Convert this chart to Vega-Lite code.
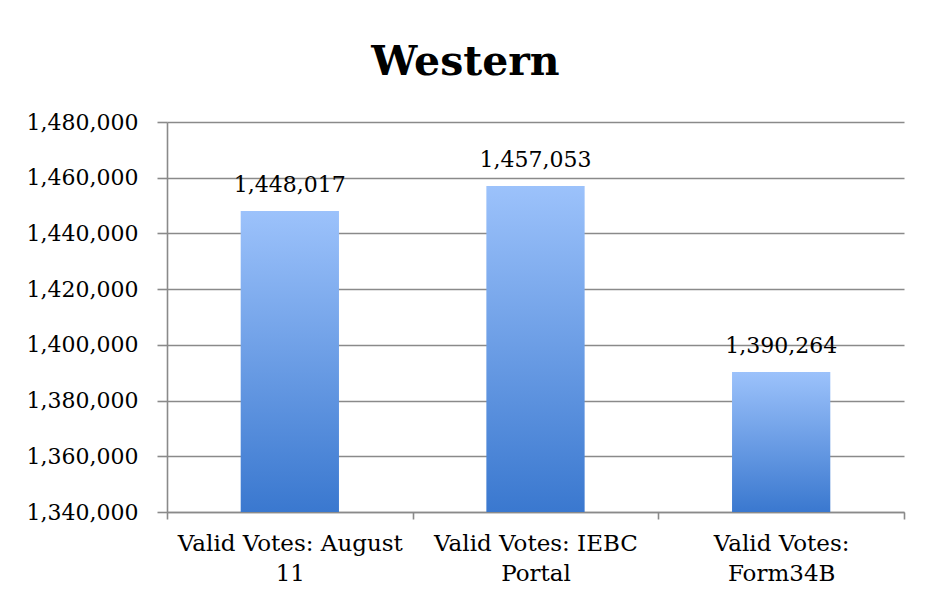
{
  "$schema": "https://vega.github.io/schema/vega-lite/v6.json",
  "autosize": "none",
  "width": 737,
  "height": 390,
  "padding": {"left": 167, "top": 122, "right": 27, "bottom": 95},
  "background": "white",
  "title": {
    "text": "Western",
    "font": "DejaVu Serif",
    "fontSize": 41,
    "fontWeight": "bold",
    "color": "#000000",
    "anchor": "middle",
    "frame": "group",
    "dx": -70,
    "baseline": "alphabetic",
    "offset": -5
  },
  "data": {
    "values": [
      {"category": "Valid Votes: August 11", "votes": 1448017},
      {"category": "Valid Votes: IEBC Portal", "votes": 1457053},
      {"category": "Valid Votes: Form34B", "votes": 1390264}
    ]
  },
  "encoding": {
    "x": {
      "field": "category",
      "type": "nominal",
      "sort": null,
      "title": null,
      "scale": {"paddingInner": 0, "paddingOuter": 0},
      "axis": {
        "labelAngle": 0,
        "tickBand": "extent",
        "labelFont": "DejaVu Serif",
        "labelFontSize": 23,
        "labelColor": "#000000",
        "labelLineHeight": 30,
        "labelBaseline": "top",
        "labelPadding": 13,
        "labelLimit": 400,
        "domainColor": "#8a8a8a",
        "domainWidth": 1.6,
        "tickColor": "#8a8a8a",
        "tickWidth": 1.6,
        "tickSize": 7,
        "labelExpr": "datum.value == 'Valid Votes: August 11' ? ['Valid Votes: August', '11'] : datum.value == 'Valid Votes: IEBC Portal' ? ['Valid Votes: IEBC', 'Portal'] : datum.value == 'Valid Votes: Form34B' ? ['Valid Votes:', 'Form34B'] : ''"
      }
    },
    "y": {
      "field": "votes",
      "type": "quantitative",
      "title": null,
      "scale": {"domain": [1340000, 1480000], "zero": false, "nice": false},
      "axis": {
        "values": [1340000, 1360000, 1380000, 1400000, 1420000, 1440000, 1460000, 1480000],
        "labelExpr": "format(datum.value, ',.0f')",
        "labelFont": "DejaVu Serif",
        "labelFontSize": 22,
        "labelColor": "#000000",
        "labelPadding": 19,
        "tickSize": 10,
        "tickColor": "#8a8a8a",
        "tickWidth": 1.6,
        "domainColor": "#8a8a8a",
        "domainWidth": 1.6,
        "grid": true,
        "gridColor": "#8a8a8a",
        "gridWidth": 1.6
      }
    }
  },
  "layer": [
    {
      "mark": {
        "type": "bar",
        "width": {"band": 0.4},
        "fill": {
          "gradient": "linear",
          "x1": 0, "y1": 0, "x2": 0, "y2": 1,
          "stops": [
            {"offset": 0, "color": "#9cc2fb"},
            {"offset": 1, "color": "#3a78cf"}
          ]
        }
      },
      "encoding": {
        "y2": {"datum": 1340000}
      }
    },
    {
      "mark": {
        "type": "text",
        "font": "DejaVu Serif",
        "fontSize": 22,
        "color": "#000000",
        "baseline": "alphabetic",
        "dy": -19
      },
      "encoding": {
        "text": {"field": "votes", "type": "quantitative", "format": ",.0f"}
      }
    }
  ],
  "config": {
    "view": {"stroke": null}
  }
}
